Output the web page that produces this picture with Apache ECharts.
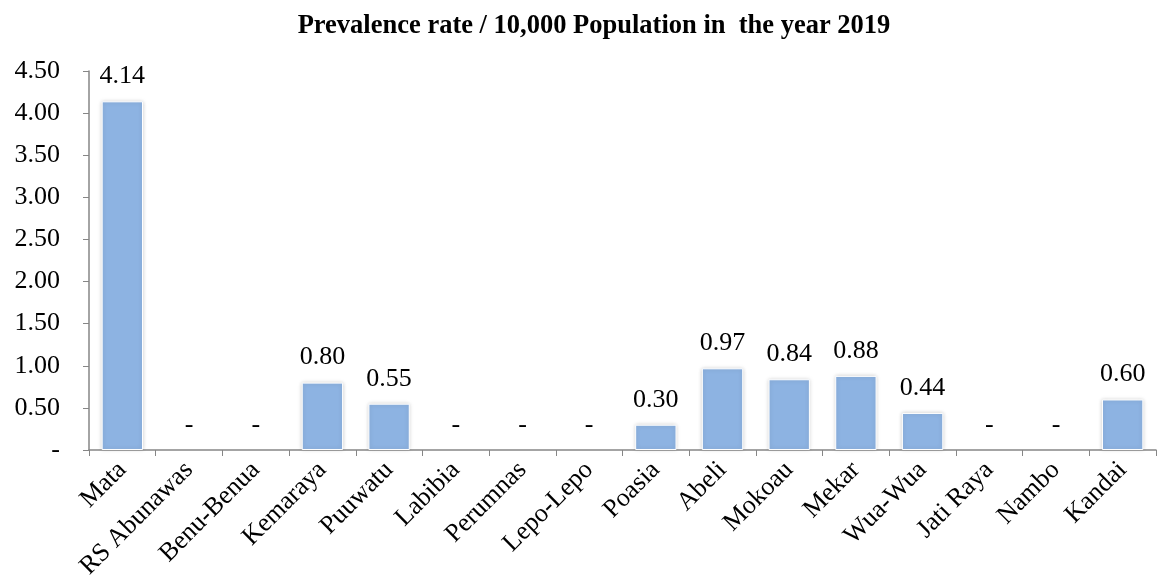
<!DOCTYPE html>
<html>
<head>
<meta charset="utf-8">
<script src="https://cdn.jsdelivr.net/npm/echarts@6/dist/echarts.min.js"></script>
<style>
  html, body { margin: 0; padding: 0; background: #fff; }
  #chart { width: 1159px; height: 582px; }
</style>
</head>
<body>
<div id="chart"></div>
<script>
const categories = ['Mata', 'RS Abunawas', 'Benu-Benua', 'Kemaraya', 'Puuwatu', 'Labibia', 'Perumnas',
  'Lepo-Lepo', 'Poasia', 'Abeli', 'Mokoau', 'Mekar', 'Wua-Wua', 'Jati Raya', 'Nambo', 'Kandai'];
const prevalence = [4.14, 0, 0, 0.80, 0.55, 0, 0, 0, 0.30, 0.97, 0.84, 0.88, 0.44, 0, 0, 0.60];

const serif = '"Liberation Serif", "Times New Roman", serif';
const fmt = v => (v === 0 ? '-' : v.toFixed(2));

// zero bars: keep the "-" label but draw no bar body
const barData = prevalence.map(v => v === 0
  ? { value: v, itemStyle: { color: 'transparent', borderWidth: 0, shadowBlur: 0 } }
  : v);

const chart = echarts.init(document.getElementById('chart'));
chart.setOption({
  animation: false,
  title: {
    text: 'Prevalence rate / 10,000 Population in  the year 2019',
    left: 589,
    textAlign: 'center',
    top: 8,
    textStyle: { fontFamily: serif, fontSize: 26.5, fontWeight: 'bold', color: '#000' }
  },
  grid: { left: 89, right: 3, top: 71, bottom: 130 },
  xAxis: {
    type: 'category',
    data: categories,
    axisLine: { lineStyle: { color: '#868686', width: 1.5 } },
    axisTick: { show: true, length: 6, lineStyle: { color: '#868686' } },
    axisLabel: {
      rotate: 45,
      interval: 0,
      margin: 16,
      fontFamily: serif,
      fontSize: 26,
      color: '#000'
    }
  },
  yAxis: {
    type: 'value',
    min: 0,
    max: 4.5,
    interval: 0.5,
    axisLine: { show: true, lineStyle: { color: '#868686', width: 1.5 } },
    axisTick: { show: true, length: 6, lineStyle: { color: '#868686' } },
    splitLine: { show: false },
    axisLabel: {
      margin: 29,
      fontFamily: serif,
      fontSize: 26,
      color: '#000',
      formatter: v => fmt(v)
    }
  },
  series: [{
    type: 'bar',
    data: barData,
    barCategoryGap: '38%',
    itemStyle: {
      color: '#8DB3E2',
      borderColor: '#ffffff',
      borderWidth: 1,
      shadowColor: 'rgba(0,0,0,0.18)',
      shadowBlur: 4
    },
    label: {
      show: true,
      position: 'top',
      distance: 12,
      fontFamily: serif,
      fontSize: 26,
      color: '#000',
      formatter: p => fmt(p.value)
    }
  }]
});
</script>
</body>
</html>
